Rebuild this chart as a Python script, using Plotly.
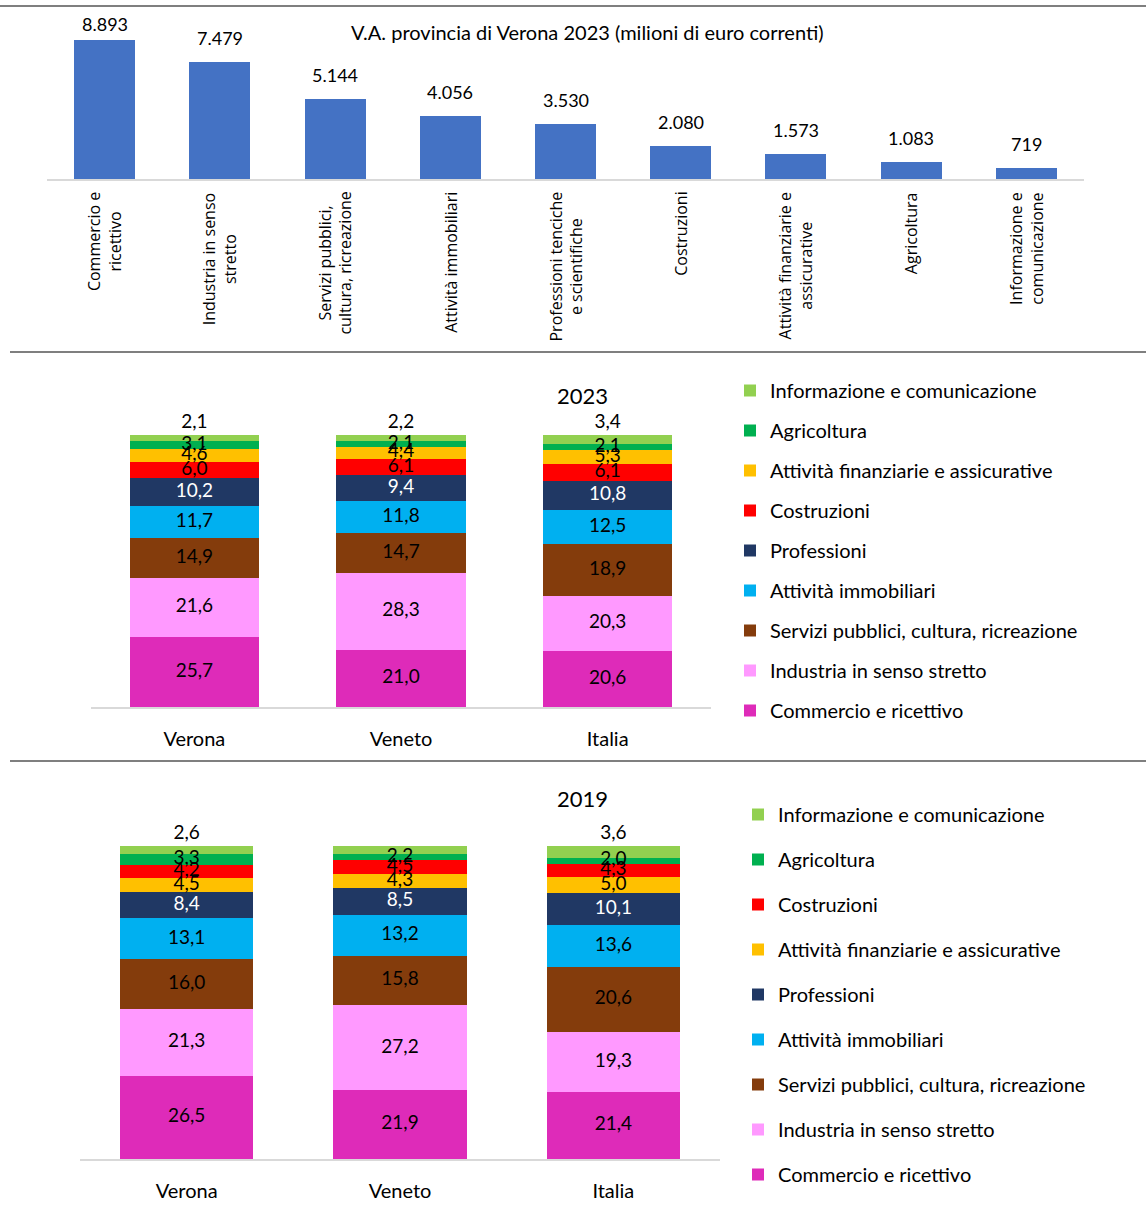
import plotly.graph_objects as go

W, H = 1146, 1207

# ---------------- data ----------------
va_categories = [
    "Commercio e<br>ricettivo",
    "Industria in senso<br>stretto",
    "Servizi pubblici,<br>cultura, ricreazione",
    "Attività immobiliari",
    "Professioni tenciche<br>e scientifiche",
    "Costruzioni",
    "Attività finanziarie e<br>assicurative",
    "Agricoltura",
    "Informazione e<br>comunicazione",
]
va_values = [8893, 7479, 5144, 4056, 3530, 2080, 1573, 1083, 719]
va_title = "V.A. provincia di Verona 2023 (milioni di euro correnti)"

areas = ["Verona", "Veneto", "Italia"]

# 2023 shares (%), stacking order bottom -> top
sectors_2023 = [
    "Commercio e ricettivo",
    "Industria in senso stretto",
    "Servizi pubblici, cultura, ricreazione",
    "Attività immobiliari",
    "Professioni",
    "Costruzioni",
    "Attività finanziarie e assicurative",
    "Agricoltura",
    "Informazione e comunicazione",
]
shares_2023 = [
    [25.7, 21.0, 20.6],
    [21.6, 28.3, 20.3],
    [14.9, 14.7, 18.9],
    [11.7, 11.8, 12.5],
    [10.2, 9.4, 10.8],
    [6.0, 6.1, 6.1],
    [4.6, 4.4, 5.3],
    [3.1, 2.1, 2.1],
    [2.1, 2.2, 3.4],
]

# 2019 shares (%), stacking order bottom -> top
sectors_2019 = [
    "Commercio e ricettivo",
    "Industria in senso stretto",
    "Servizi pubblici, cultura, ricreazione",
    "Attività immobiliari",
    "Professioni",
    "Attività finanziarie e assicurative",
    "Costruzioni",
    "Agricoltura",
    "Informazione e comunicazione",
]
shares_2019 = [
    [26.5, 21.9, 21.4],
    [21.3, 27.2, 19.3],
    [16.0, 15.8, 20.6],
    [13.1, 13.2, 13.6],
    [8.4, 8.5, 10.1],
    [4.5, 4.3, 5.0],
    [4.2, 4.5, 4.3],
    [3.3, 2.2, 2.0],
    [2.6, 2.5, 3.6],
]

sector_colors = {
    "Commercio e ricettivo": "#DE2BB9",
    "Industria in senso stretto": "#FF99FF",
    "Servizi pubblici, cultura, ricreazione": "#843C0C",
    "Attività immobiliari": "#00B0F0",
    "Professioni": "#203864",
    "Costruzioni": "#FF0000",
    "Attività finanziarie e assicurative": "#FFC000",
    "Agricoltura": "#00B050",
    "Informazione e comunicazione": "#92D050",
}
white_text = {"Professioni"}

FONT = "Lato"
CAT_FONT = "Open Sans"


def px_x(x):
    return x / W


def px_y(y):
    return 1 - y / H


fig = go.Figure()

# ---------------- top bar chart ----------------
fig.add_trace(go.Bar(
    x=va_categories, y=va_values,
    marker=dict(color="#4472C4", line=dict(width=0)),
    width=0.53,
    showlegend=False, xaxis="x", yaxis="y", cliponaxis=False,
))

annotations = []
for i, (c, v) in enumerate(zip(va_categories, va_values)):
    annotations.append(dict(
        x=c, xref="x", y=v, yref="y",
        text=f"{v:,}".replace(",", "."), showarrow=False,
        xanchor="center", yanchor="middle", yshift=16 if i == 0 else 24,
        font=dict(family=FONT, size=18, color="#000000"),
    ))
    annotations.append(dict(
        x=c, xref="x", y=px_y(190), yref="paper",
        text=c, textangle=-90, showarrow=False,
        xanchor="center", yanchor="top", align="center",
        font=dict(family=CAT_FONT, size=16, color="#000000"),
    ))
annotations.append(dict(
    x=px_x(587), y=px_y(32), xref="paper", yref="paper",
    text=va_title, showarrow=False, xanchor="center", yanchor="middle",
    font=dict(family=FONT, size=20, color="#000000"),
))


# ---------------- stacked charts ----------------
def add_stack(sectors, shares, xa, ya, legend, gid):
    n = len(sectors)
    bases = [0.0] * len(areas)
    label_traces = []
    for i, (s, vals) in enumerate(zip(sectors, shares)):
        top = i == n - 1
        fig.add_trace(go.Bar(
            x=areas, y=vals, name=s,
            marker=dict(color=sector_colors[s], line=dict(width=0)),
            width=0.625,
            texttemplate="%{y:.1f}" if top else None,
            textposition="outside" if top else "none",
            textangle=0,
            textfont=dict(family=FONT, size=19, color="#000000"),
            constraintext="none", cliponaxis=False,
            xaxis=xa, yaxis=ya, legend=legend,
            legendgroup=f"{gid}_{i}", legendrank=100 - i,
            hoverinfo="skip",
        ))
        if not top:
            mids = [b + v / 2 for b, v in zip(bases, vals)]
            label_traces.append(go.Scatter(
                x=areas, y=mids, customdata=vals, mode="text",
                texttemplate="%{customdata:.1f}", textposition="middle center",
                textfont=dict(family=FONT, size=19,
                              color="#FFFFFF" if s in white_text else "#000000"),
                showlegend=False, hoverinfo="skip", cliponaxis=False,
                xaxis=xa, yaxis=ya,
            ))
        bases = [b + v for b, v in zip(bases, vals)]
    for t in label_traces:
        fig.add_trace(t)


add_stack(sectors_2023, shares_2023, "x2", "y2", "legend", "a")
add_stack(sectors_2019, shares_2019, "x3", "y3", "legend2", "b")

annotations.append(dict(
    x=px_x(582), y=px_y(395), xref="paper", yref="paper", text="2023",
    showarrow=False, xanchor="center", yanchor="middle",
    font=dict(family=FONT, size=22, color="#000000"),
))
annotations.append(dict(
    x=px_x(582), y=px_y(798), xref="paper", yref="paper", text="2019",
    showarrow=False, xanchor="center", yanchor="middle",
    font=dict(family=FONT, size=22, color="#000000"),
))

shapes = []
for y, x0 in [(6, 0), (352, 10), (761, 10)]:
    shapes.append(dict(type="line", xref="paper", yref="paper",
                       x0=px_x(x0), x1=1, y0=px_y(y), y1=px_y(y),
                       line=dict(color="#7F7F7F", width=2)))

axis_common = dict(showgrid=False, zeroline=False, ticks="",
                   showline=True, linecolor="#D9D9D9", linewidth=2,
                   fixedrange=True)
yaxis_common = dict(visible=False, showgrid=False, zeroline=False, fixedrange=True)

fig.update_layout(
    width=W, height=H,
    margin=dict(l=0, r=0, t=0, b=0),
    paper_bgcolor="white", plot_bgcolor="white",
    separators=",.",
    barmode="stack",
    font=dict(family=FONT, size=18, color="#000000"),
    xaxis=dict(domain=[px_x(47), px_x(1084)], showticklabels=False, **axis_common),
    yaxis=dict(domain=[px_y(179), px_y(22.7)], range=[0, 10000], **yaxis_common),
    xaxis2=dict(domain=[px_x(91), px_x(711)], anchor="y2",
                tickfont=dict(family=FONT, size=20), ticklabelstandoff=13,
                **axis_common),
    yaxis2=dict(domain=[px_y(707), px_y(435)], range=[0, 100], anchor="x2",
                **yaxis_common),
    xaxis3=dict(domain=[px_x(80), px_x(720)], anchor="y3",
                tickfont=dict(family=FONT, size=20), ticklabelstandoff=13,
                **axis_common),
    yaxis3=dict(domain=[px_y(1159), px_y(846)], range=[0, 100], anchor="x3",
                **yaxis_common),
    legend=dict(x=px_x(730), y=px_y(371), xanchor="left", yanchor="top",
                traceorder="grouped", tracegroupgap=11,
                font=dict(family=FONT, size=20), bgcolor="rgba(0,0,0,0)"),
    legend2=dict(x=px_x(738), y=px_y(795), xanchor="left", yanchor="top",
                 traceorder="grouped", tracegroupgap=16,
                 font=dict(family=FONT, size=20), bgcolor="rgba(0,0,0,0)"),
    annotations=annotations,
    shapes=shapes,
)

fig.write_html("out.html", config={"displayModeBar": False},
               post_script="document.body.style.margin='0';")
